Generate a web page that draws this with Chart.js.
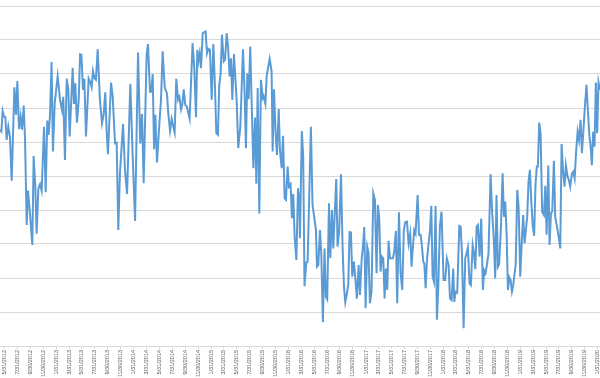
<!DOCTYPE html>
<html>
<head>
<meta charset="utf-8">
<script src="https://cdn.jsdelivr.net/npm/chart.js@4.4.0/dist/chart.umd.min.js"></script>
<style>
  html, body { margin: 0; padding: 0; background: #fff; }
  #wrap { width: 600px; height: 378px; }
</style>
</head>
<body>
<div id="wrap"><canvas id="chart" width="600" height="378"></canvas></div>
<script>
// first weekly point of the series
var startDate = "5/9/2012";

// axis labels, every two months
var tickLabels = [
  "5/31/2012", "7/31/2012", "9/30/2012", "11/30/2012",
  "1/31/2013", "3/31/2013", "5/31/2013", "7/31/2013", "9/30/2013", "11/30/2013",
  "1/31/2014", "3/31/2014", "5/31/2014", "7/31/2014", "9/30/2014", "11/30/2014",
  "1/31/2015", "3/31/2015", "5/31/2015", "7/31/2015", "9/30/2015", "11/30/2015",
  "1/31/2016", "3/31/2016", "5/31/2016", "7/31/2016", "9/30/2016", "11/30/2016",
  "1/31/2017", "3/31/2017", "5/31/2017", "7/31/2017", "9/30/2017", "11/30/2017",
  "1/31/2018", "3/31/2018", "5/31/2018", "7/31/2018", "9/30/2018", "11/30/2018",
  "1/31/2019", "3/31/2019", "5/31/2019", "7/31/2019", "9/30/2019", "11/30/2019",
  "1/31/2020"
];

// week number of each point (weeks after startDate)
var weekPos = [
  0.0, 0.9, 1.8, 2.7, 3.6, 4.5, 5.6, 6.7, 7.9, 9.7, 10.8, 11.7, 12.8, 13.9, 14.8, 16.0, 16.9, 18.0, 18.9, 20.2,
  21.8, 22.7, 23.8, 24.7, 25.9, 27.0, 28.1, 29.7, 30.8, 31.9, 32.8, 33.7, 34.8, 35.7, 36.9, 38.9, 40.5, 41.8, 42.7, 43.8,
  45.0, 46.1, 47.0, 49.0, 49.9, 50.8, 51.9, 53.1, 54.0, 54.9, 56.0, 56.9, 58.0, 59.8, 60.7, 61.8, 62.7, 63.8, 64.7, 65.9,
  67.4, 68.8, 69.9, 71.0, 71.9, 72.8, 74.9, 76.0, 77.6, 78.7, 79.8, 80.9, 83.0, 84.3, 85.7, 87.9, 89.5, 91.1, 93.1, 94.6,
  95.8, 96.9, 98.9, 99.8, 101.2, 102.1, 103.0, 103.9, 104.8, 105.9, 107.5, 108.6, 109.7, 111.1, 112.6, 113.5, 114.7, 115.8, 116.9, 117.8,
  118.9, 120.1, 121.0, 122.1, 123.0, 123.9, 125.0, 126.1, 127.0, 127.9, 129.9, 131.1, 132.2, 133.1, 133.8, 134.7, 135.6, 136.7, 137.8, 138.7,
  139.6, 140.5, 141.6, 142.8, 143.9, 145.0, 145.9, 147.0, 147.9, 148.8, 149.7, 150.9, 151.8, 152.9, 153.8, 154.9, 155.8, 156.7, 157.8, 159.6,
  160.7, 162.1, 163.9, 165.0, 165.9, 166.8, 167.7, 168.8, 169.7, 170.9, 172.0, 172.9, 173.8, 174.9, 176.0, 177.2, 177.8, 179.0, 179.9, 181.9,
  183.2, 183.9, 184.8, 185.9, 186.8, 188.0, 188.8, 190.0, 190.9, 192.0, 192.9, 194.0, 194.9, 196.0, 196.9, 197.8, 198.7, 199.9, 201.0, 201.9,
  202.3, 203.6, 204.5, 205.4, 206.6, 207.5, 209.7, 210.8, 212.2, 213.1, 213.8, 214.7, 215.8, 216.7, 217.8, 218.9, 219.8, 220.7, 221.9, 222.8,
  223.9, 224.8, 225.7, 226.8, 227.7, 228.8, 230.0, 231.1, 232.0, 232.9, 234.0, 234.9, 235.8, 236.7, 237.6, 238.7, 239.6, 240.7, 241.9, 242.8,
  243.9, 244.8, 245.7, 246.6, 247.7, 248.6, 249.5, 250.6, 251.8, 252.9, 254.0, 254.9, 255.8, 256.7, 257.6, 258.5, 259.4, 260.3, 261.2, 262.1,
  263.0, 263.9, 265.0, 265.9, 267.0, 267.9, 269.1, 270.2, 271.3, 272.4, 273.3, 274.5, 275.6, 276.7, 277.6, 278.5, 279.4, 280.3, 281.7, 282.6,
  283.7, 284.6, 285.5, 286.2, 287.1, 288.0, 289.1, 290.0, 290.9, 291.8, 292.7, 293.8, 294.7, 295.6, 296.7, 297.8, 299.2, 300.3, 301.4, 302.6,
  303.5, 304.6, 305.7, 306.4, 307.3, 308.4, 309.8, 310.7, 311.6, 312.7, 313.8, 314.7, 315.6, 316.7, 317.6, 318.8, 319.7, 320.6, 321.5, 322.4,
  323.5, 324.6, 325.7, 326.6, 327.5, 328.4, 329.5, 330.9, 332.0, 333.1, 334.0, 334.9, 335.8, 336.7, 337.9, 339.0, 339.9, 340.8, 341.7, 342.6,
  343.5, 344.4, 345.3, 346.2, 347.1, 347.8, 348.9, 349.8, 350.9, 352.0, 352.9, 353.8, 354.7, 355.6, 356.5, 357.4, 358.3, 359.4, 360.3, 361.2,
  362.1, 362.8, 363.7, 364.6, 365.7, 366.9, 367.8, 368.7, 369.8, 370.7, 371.6, 372.5, 373.6, 374.5, 375.6, 376.8, 377.9, 378.8, 379.9, 380.8,
  381.7, 382.8, 383.7, 384.6, 385.8, 386.7, 387.6, 388.5, 389.6, 390.5, 391.6, 392.5, 393.4, 394.5, 395.6, 396.5, 397.4, 398.6, 399.2, 400.1,
  401.0, 401.9, 402.8, 403.7, 404.6
];

// series values (one gridline = 1 unit)
var values = [
  6.36, 6.31, 6.91, 6.75, 6.73, 6.06, 6.45, 6.16, 4.86, 7.61, 6.80, 7.79, 6.38, 6.75, 6.36, 7.07, 6.06, 3.56, 4.57, 3.90,
  2.97, 5.59, 4.69, 3.30, 4.64, 4.76, 4.57, 6.45, 4.52, 6.63, 6.21, 6.75, 8.35, 5.72, 7.14, 7.93, 7.24, 6.94, 7.33, 5.47,
  7.86, 7.53, 6.16, 8.18, 7.12, 7.73, 6.57, 7.24, 8.58, 8.56, 7.53, 7.86, 6.16, 7.87, 7.78, 7.61, 8.09, 7.87, 7.83, 8.73,
  7.24, 6.55, 6.80, 7.46, 6.36, 5.64, 7.75, 7.34, 5.96, 5.98, 3.41, 5.08, 6.53, 5.18, 4.47, 7.71, 5.57, 3.68, 8.63, 5.96,
  6.82, 4.79, 8.56, 8.88, 7.48, 7.48, 8.00, 5.79, 6.80, 5.40, 6.55, 7.24, 8.67, 7.61, 7.43, 6.85, 6.33, 6.68, 6.45, 6.28,
  7.86, 7.24, 7.33, 6.96, 7.11, 7.55, 7.09, 7.04, 6.85, 6.68, 8.91, 8.12, 6.73, 8.71, 8.37, 8.61, 8.17, 9.20, 9.23, 9.25,
  8.61, 8.74, 8.71, 7.24, 8.88, 7.63, 6.26, 6.21, 7.68, 8.00, 9.15, 8.37, 8.42, 9.20, 8.81, 7.93, 8.46, 7.24, 8.59, 7.24,
  5.82, 6.45, 8.73, 7.43, 5.82, 8.02, 7.26, 8.81, 7.24, 5.23, 6.72, 4.77, 7.59, 3.90, 7.83, 7.29, 7.35, 7.12, 7.96, 8.45,
  8.07, 5.72, 7.55, 6.26, 5.62, 6.97, 5.77, 5.23, 6.18, 4.34, 4.30, 5.28, 4.69, 4.76, 3.76, 4.47, 3.22, 2.53, 4.64, 4.30,
  3.17, 6.32, 5.57, 1.76, 2.46, 2.48, 6.45, 4.15, 3.71, 3.41, 2.33, 2.38, 3.41, 2.73, 0.70, 2.87, 1.45, 1.37, 4.20, 2.58,
  4.00, 2.87, 3.80, 4.91, 2.92, 3.41, 5.05, 2.87, 1.75, 1.29, 1.55, 1.79, 3.35, 3.34, 2.04, 2.48, 2.04, 1.39, 2.38, 1.50,
  2.53, 2.92, 3.50, 1.11, 2.92, 2.73, 1.26, 1.60, 4.49, 4.29, 2.14, 4.15, 3.75, 2.19, 2.63, 2.58, 1.40, 2.28, 1.65, 3.09,
  2.58, 2.58, 2.58, 2.77, 3.39, 1.26, 3.93, 2.14, 1.65, 3.41, 3.64, 3.66, 3.02, 3.31, 2.33, 2.92, 3.41, 3.31, 4.44, 3.27,
  3.27, 2.92, 2.48, 2.43, 1.70, 2.53, 3.02, 3.36, 4.12, 2.04, 1.89, 4.12, 0.77, 1.70, 3.51, 3.95, 1.94, 1.94, 2.58, 2.38,
  1.40, 1.35, 2.28, 1.30, 1.60, 1.57, 3.53, 3.51, 2.73, 0.52, 2.58, 2.73, 2.90, 1.84, 1.79, 2.97, 2.73, 2.26, 3.51, 3.56,
  2.63, 3.75, 1.65, 2.22, 2.14, 2.38, 2.73, 5.05, 3.90, 3.12, 1.99, 4.44, 2.33, 2.41, 3.51, 5.08, 3.80, 4.25, 3.31, 1.65,
  2.02, 1.94, 1.60, 1.79, 2.14, 2.38, 4.59, 4.10, 2.04, 3.12, 3.85, 3.02, 3.41, 3.80, 4.84, 5.18, 4.29, 3.51, 3.24, 4.74,
  5.28, 5.28, 6.57, 6.26, 3.95, 3.85, 4.71, 3.27, 5.31, 2.97, 3.90, 3.95, 5.45, 3.80, 3.53, 3.22, 2.87, 5.94, 5.08, 4.69,
  5.32, 4.98, 4.88, 4.69, 5.08, 5.13, 4.93, 5.65, 6.30, 6.06, 6.65, 5.67, 6.26, 7.04, 7.68, 6.94, 6.26, 5.76, 5.32, 6.30,
  5.86, 7.75, 6.26, 7.75, 7.53
];

var weekEnd = 404.7;

var toDay = function(s){
	var p = s.split("/");
	return Date.UTC(+p[2], +p[0] - 1, +p[1]) / 86400000;
};

var tickWeeks = tickLabels.map(function(s){
	return (toDay(s) - toDay(startDate)) / 7;
});

var points = [];
for (var i = 0; i < values.length; i++) {
	points.push({ x: weekPos[i], y: values[i] });
}

var ctx = document.getElementById("chart").getContext("2d");
new Chart(ctx, {
	type: "line",
	data: {
		datasets: [{
			data: points,
			borderColor: "#5B9BD5",
			borderWidth: 2,
			pointRadius: 0,
			tension: 0,
			fill: false
		}]
	},
	options: {
		responsive: false,
		animation: false,
		layout: { padding: { top: 6, left: 0, right: 0, bottom: 0 } },
		plugins: { legend: { display: false }, tooltip: { enabled: false } },
		scales: {
			x: {
				type: "linear",
				min: 0,
				max: weekEnd,
				afterBuildTicks: function(scale){
					scale.ticks = tickWeeks.map(function(v){ return { value: v }; });
				},
				afterFit: function(scale){
					scale.height = 32;
					scale.paddingLeft = 0;
					scale.paddingRight = 0;
				},
				border: { display: true, color: "#d9d9d9", width: 1 },
				grid: { drawOnChartArea: false, drawTicks: true, tickLength: 3, color: "#d9d9d9" },
				ticks: {
					autoSkip: false,
					minRotation: 90,
					maxRotation: 90,
					padding: 1,
					color: "#595959",
					font: { family: "Liberation Sans", size: 5.5 },
					callback: function(v, i){ return tickLabels[i]; }
				}
			},
			y: {
				min: 0,
				max: 10,
				afterFit: function(scale){ scale.width = 0; },
				border: { display: false },
				grid: { color: "#d9d9d9", drawTicks: false },
				ticks: { display: false, stepSize: 1 }
			}
		}
	}
});
</script>
</body>
</html>
